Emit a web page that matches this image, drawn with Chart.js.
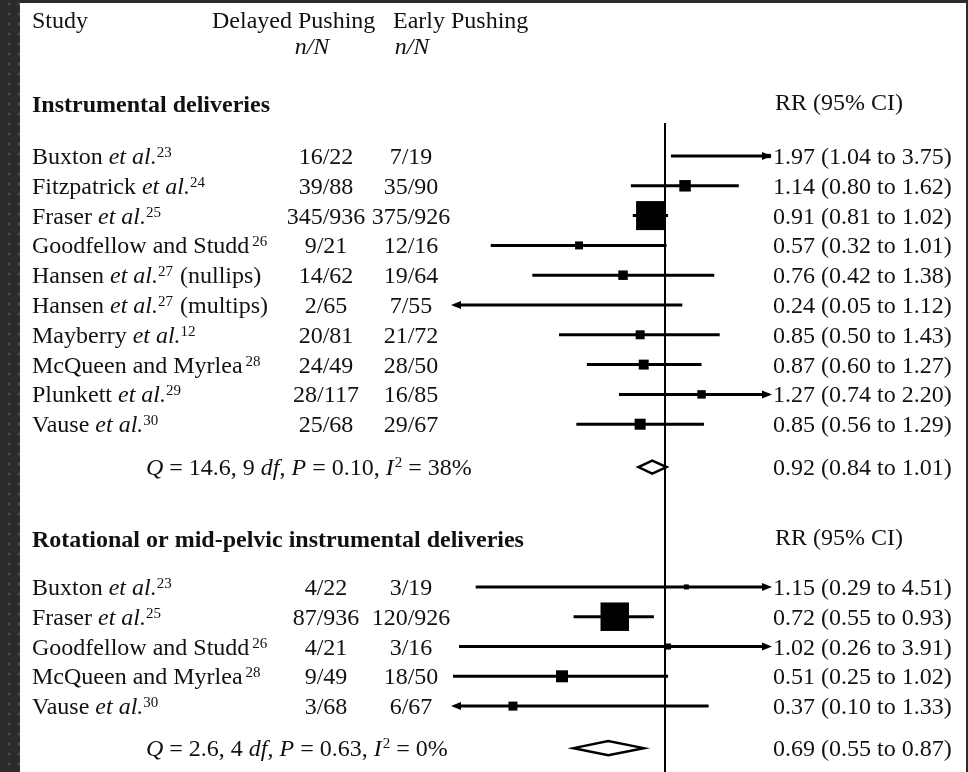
<!DOCTYPE html>
<html>
<head>
<meta charset="utf-8">
<script src="https://cdn.jsdelivr.net/npm/chart.js@4.4.1/dist/chart.umd.min.js"></script>
<style>
  html, body { margin: 0; padding: 0; background: #2b2b2b; overflow: hidden; }
  #chart { display: block; }
</style>
</head>
<body>
<canvas id="chart" width="968" height="772"></canvas>
<script>
// Instrumental deliveries
const authors1 = ['Buxton', 'Fitzpatrick', 'Fraser', 'Goodfellow and Studd', 'Hansen', 'Hansen', 'Mayberry', 'McQueen and Myrlea', 'Plunkett', 'Vause'];
const etal1 = [true, true, true, false, true, true, true, false, true, true];
const refs1 = ['23', '24', '25', '26', '27', '27', '12', '28', '29', '30'];
const notes1 = ['', '', '', '', ' (nullips)', ' (multips)', '', '', '', ''];
const delayed1 = ['16/22', '39/88', '345/936', '9/21', '14/62', '2/65', '20/81', '24/49', '28/117', '25/68'];
const early1 = ['7/19', '35/90', '375/926', '12/16', '19/64', '7/55', '21/72', '28/50', '16/85', '29/67'];
const rr1 = [1.97, 1.14, 0.91, 0.57, 0.76, 0.24, 0.85, 0.87, 1.27, 0.85];
const lo1 = [1.04, 0.80, 0.81, 0.32, 0.42, 0.05, 0.50, 0.60, 0.74, 0.56];
const hi1 = [3.75, 1.62, 1.02, 1.01, 1.38, 1.12, 1.43, 1.27, 2.20, 1.29];
const weight1 = [1.2, 8.5, 54.2, 4.1, 5.8, 1.0, 5.2, 6.4, 4.6, 7.8];
const pooled1 = [0.92, 0.84, 1.01];
const het1 = ['14.6', '9', '0.10', '38'];

// Rotational or mid-pelvic instrumental deliveries
const authors2 = ['Buxton', 'Fraser', 'Goodfellow and Studd', 'McQueen and Myrlea', 'Vause'];
const etal2 = [true, true, false, false, true];
const refs2 = ['23', '25', '26', '28', '30'];
const notes2 = ['', '', '', '', ''];
const delayed2 = ['4/22', '87/936', '4/21', '9/49', '3/68'];
const early2 = ['3/19', '120/926', '3/16', '18/50', '6/67'];
const rr2 = [1.15, 0.72, 1.02, 0.51, 0.37];
const lo2 = [0.29, 0.55, 0.26, 0.25, 0.10];
const hi2 = [4.51, 0.93, 3.91, 1.02, 1.33];
const weight2 = [2.3, 74.0, 3.3, 13.1, 7.4];
const pooled2 = [0.69, 0.55, 0.87];
const het2 = ['2.6', '4', '0.63', '0'];

// x axis limits (log scale)
const xMin = 0.25, xMax = 2;

// row slots (y axis in row units)
const rowStart1 = 0, summaryRow1 = 10.44;
const rowStart2 = 14.46, summaryRow2 = 19.87;

const SERIF = '"Liberation Serif", "Times New Roman", serif';
const FONT = '24px ' + SERIF;
const IFONT = 'italic 24px ' + SERIF;
const BFONT = 'bold 24px ' + SERIF;
const SFONT = '15px ' + SERIF;

function run(ctx, text, x, y, font) {
  ctx.font = font;
  ctx.fillText(text, x, y);
  return x + ctx.measureText(text).width;
}

function runs(ctx, parts, x, y) {
  let cx = x;
  for (const [t, f] of parts) {
    if (f === 's') cx = run(ctx, t, cx + 1, y - 8, SFONT);
    else cx = run(ctx, t, cx, y, f === 'i' ? IFONT : FONT);
  }
  return cx;
}

function hetParts(h) {
  return [['Q', 'i'], [' = ' + h[0] + ', ' + h[1] + ' ', 'n'], ['df', 'i'], [', ', 'n'],
    ['P', 'i'], [' = ' + h[2] + ', ', 'n'], ['I', 'i'], ['2', 's'], [' = ' + h[3] + '%', 'n']];
}

function ciText(v) {
  return v[0].toFixed(2) + ' (' + v[1].toFixed(2) + ' to ' + v[2].toFixed(2) + ')';
}

function squarePoints(rr, start) {
  return rr.map((v, i) => ({x: v, y: start + i}));
}

function squareRadius(w, total) {
  // box area proportional to study weight
  return w.map(v => Math.sqrt(v / 100 * total) / Math.SQRT2);
}

function arrowHead(ctx, x, y, dir) {
  ctx.beginPath();
  ctx.moveTo(x, y);
  ctx.lineTo(x - dir * 10, y - 4);
  ctx.lineTo(x - dir * 10, y + 4);
  ctx.closePath();
  ctx.fill();
}

const backdrop = {
  id: 'backdrop',
  beforeDraw(chart) {
    const ctx = chart.ctx;
    ctx.save();
    ctx.fillStyle = '#2b2b2b';
    ctx.fillRect(0, 0, chart.width, chart.height);
    ctx.fillStyle = '#4a4a4a';
    for (let y = 4; y < chart.height; y += 10) {
      for (let x = 4; x < 20; x += 10) {
        ctx.beginPath();
        ctx.arc(x + ((y / 10) % 2 ? 5 : 0), y, 1.6, 0, Math.PI * 2);
        ctx.fill();
      }
    }
    ctx.fillStyle = '#ffffff';
    ctx.fillRect(20, 3, 946, chart.height - 3);
    ctx.restore();
  }
};

// confidence interval ends, clipped to the axis with an arrow
function ciEnds(chart, l, h) {
  const xs = chart.scales.x, area = chart.chartArea;
  return {
    cutL: l < xMin, cutR: h > xMax,
    a: l < xMin ? area.left - 2 : xs.getPixelForValue(l),
    b: h > xMax ? area.right + 1 : xs.getPixelForValue(h)
  };
}

const forest = {
  id: 'forest',
  beforeDatasetsDraw(chart) {
    const {ctx, chartArea} = chart;
    const xs = chart.scales.x, ys = chart.scales.y;
    ctx.save();
    ctx.strokeStyle = '#000';
    ctx.fillStyle = '#000';

    // line of no effect
    const x1 = xs.getPixelForValue(1);
    ctx.lineWidth = 2;
    ctx.beginPath();
    ctx.moveTo(x1, chartArea.top);
    ctx.lineTo(x1, chartArea.bottom);
    ctx.stroke();

    const drawCI = (lo, hi, start) => {
      lo.forEach((l, i) => {
        const e = ciEnds(chart, l, hi[i]);
        const y = ys.getPixelForValue(start + i);
        ctx.lineWidth = 3;
        ctx.beginPath();
        ctx.moveTo(e.cutL ? e.a + 8 : e.a, y);
        ctx.lineTo(e.cutR ? e.b - 8 : e.b, y);
        ctx.stroke();
      });
    };
    drawCI(lo1, hi1, rowStart1);
    drawCI(lo2, hi2, rowStart2);

    const diamond = (p, row, half) => {
      const y = ys.getPixelForValue(row);
      ctx.beginPath();
      ctx.moveTo(xs.getPixelForValue(p[1]), y);
      ctx.lineTo(xs.getPixelForValue(p[0]), y - half);
      ctx.lineTo(xs.getPixelForValue(p[2]), y);
      ctx.lineTo(xs.getPixelForValue(p[0]), y + half);
      ctx.closePath();
      ctx.fillStyle = '#fff';
      ctx.fill();
      ctx.lineWidth = 2.5;
      ctx.lineJoin = 'miter';
      ctx.stroke();
    };
    diamond(pooled1, summaryRow1, 6.5);
    diamond(pooled2, summaryRow2, 7);
    ctx.restore();
  },
  afterDatasetsDraw(chart) {
    const {ctx} = chart;
    const ys = chart.scales.y;
    ctx.save();
    ctx.fillStyle = '#000';
    const heads = (lo, hi, start) => {
      lo.forEach((l, i) => {
        const e = ciEnds(chart, l, hi[i]);
        const y = ys.getPixelForValue(start + i);
        if (e.cutL) arrowHead(ctx, e.a, y, -1);
        if (e.cutR) arrowHead(ctx, e.b, y, 1);
      });
    };
    heads(lo1, hi1, rowStart1);
    heads(lo2, hi2, rowStart2);
    ctx.restore();
  },
  afterDraw(chart) {
    const {ctx} = chart;
    const ys = chart.scales.y;
    const base = v => ys.getPixelForValue(v) + 8;
    ctx.save();
    ctx.fillStyle = '#111';
    ctx.textBaseline = 'alphabetic';

    // column headings
    ctx.textAlign = 'left';
    run(ctx, 'Study', 32, base(-4.56), FONT);
    run(ctx, 'Delayed Pushing', 212, base(-4.56), FONT);
    run(ctx, 'Early Pushing', 393, base(-4.56), FONT);
    ctx.textAlign = 'center';
    run(ctx, 'n/N', 312, base(-3.69), IFONT);
    run(ctx, 'n/N', 412, base(-3.69), IFONT);
    ctx.textAlign = 'left';

    const section = (title, titleRow, authors, etal, refs, notes, delayed, early, rr, lo, hi, start, het, pooled, sumRow) => {
      run(ctx, title, 32, base(titleRow), BFONT);
      run(ctx, 'RR (95% CI)', 775, base(titleRow - 0.07), FONT);
      authors.forEach((name, i) => {
        const y = base(start + i);
        ctx.textAlign = 'left';
        let cx = run(ctx, name + (etal[i] ? ' ' : ''), 32, y, FONT);
        if (etal[i]) cx = run(ctx, 'et al.', cx, y, IFONT);
        else cx += 3;
        cx = run(ctx, refs[i], cx, y - 7, SFONT);
        if (notes[i]) run(ctx, notes[i], cx + 1, y, FONT);
        ctx.textAlign = 'center';
        run(ctx, delayed[i], 326, y, FONT);
        run(ctx, early[i], 411, y, FONT);
        ctx.textAlign = 'left';
        run(ctx, ciText([rr[i], lo[i], hi[i]]), 773, y, FONT);
      });
      runs(ctx, hetParts(het), 146, base(sumRow));
      run(ctx, ciText(pooled), 773, base(sumRow), FONT);
    };
    section('Instrumental deliveries', -1.75, authors1, etal1, refs1, notes1, delayed1, early1,
      rr1, lo1, hi1, rowStart1, het1, pooled1, summaryRow1);
    section('Rotational or mid-pelvic instrumental deliveries', 12.85, authors2, etal2, refs2, notes2,
      delayed2, early2, rr2, lo2, hi2, rowStart2, het2, pooled2, summaryRow2);
    ctx.restore();
  }
};

new Chart(document.getElementById('chart'), {
  type: 'scatter',
  data: {
    datasets: [{
      data: squarePoints(rr1, rowStart1),
      pointStyle: 'rect',
      pointRadius: squareRadius(weight1, 1553),
      backgroundColor: '#000',
      borderWidth: 0
    }, {
      data: squarePoints(rr2, rowStart2),
      pointStyle: 'rect',
      pointRadius: squareRadius(weight2, 1098),
      backgroundColor: '#000',
      borderWidth: 0
    }]
  },
  options: {
    responsive: false,
    animation: false,
    layout: {autoPadding: false, padding: {left: 453, right: 197, top: 123, bottom: 0}},
    scales: {
      x: {type: 'logarithmic', min: xMin, max: xMax, display: false},
      y: {type: 'linear', min: -1.1074, max: 20.671, reverse: true, display: false}
    },
    plugins: {legend: {display: false}, tooltip: {enabled: false}}
  },
  plugins: [backdrop, forest]
});
</script>
</body>
</html>
